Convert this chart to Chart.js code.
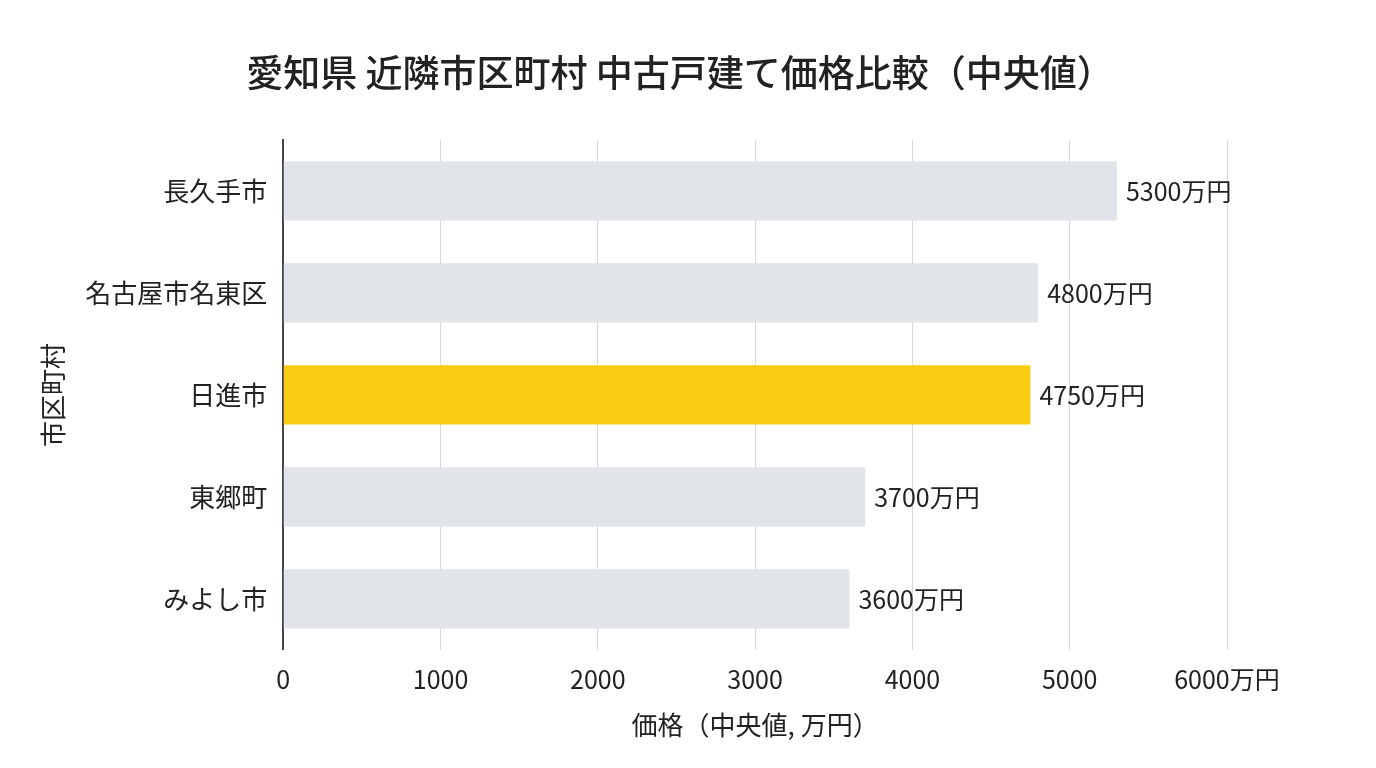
<!DOCTYPE html>
<html lang="ja">
<head>
<meta charset="utf-8">
<title>愛知県 近隣市区町村 中古戸建て価格比較</title>
<script src="https://cdn.jsdelivr.net/npm/chart.js@4.4.1/dist/chart.umd.min.js"></script>
<style>
  html, body { margin: 0; padding: 0; background: #fff; }
  #wrap { width: 1376px; height: 768px; }
</style>
</head>
<body>
<div id="wrap"><canvas id="myChart" width="1376" height="768"></canvas></div>
<script>
const categories = ['長久手市', '名古屋市名東区', '日進市', '東郷町', 'みよし市'];
const prices = [5300, 4800, 4750, 3700, 3600];
const highlight = '日進市';
const tickUnit = '万円';
const chartTitle = '愛知県 近隣市区町村 中古戸建て価格比較（中央値）';

const FONT = "'Noto Sans CJK JP', 'Noto Sans', sans-serif";
const TEXT = '#222222';

const barColors = categories.map(c => c === highlight ? '#f9cd14' : '#e1e4e9');

// タイトルはキャンバス中央に描く
const centerTitle = {
    id: 'centerTitle',
    afterDraw(chart) {
        const { ctx } = chart;
        ctx.save();
        ctx.font = '500 37px ' + FONT;
        ctx.fillStyle = TEXT;
        ctx.textAlign = 'center';
        ctx.textBaseline = 'middle';
        ctx.fillText(chartTitle, chart.width / 2 - 8, 73);
        ctx.restore();
    }
};

// 棒の右端に値ラベル
const valueLabels = {
    id: 'valueLabels',
    afterDatasetsDraw(chart) {
        const { ctx } = chart;
        const meta = chart.getDatasetMeta(0);
        ctx.save();
        ctx.font = '25px ' + FONT;
        ctx.fillStyle = TEXT;
        ctx.textAlign = 'left';
        ctx.textBaseline = 'middle';
        meta.data.forEach((bar, i) => {
            ctx.fillText(prices[i] + tickUnit, bar.x + 9, bar.y + 1);
        });
        ctx.restore();
    }
};

new Chart(document.getElementById('myChart'), {
    type: 'bar',
    data: {
        labels: categories,
        datasets: [{
            data: prices,
            backgroundColor: barColors,
            borderWidth: 0,
            barPercentage: 0.58,
            categoryPercentage: 1.0
        }]
    },
    options: {
        indexAxis: 'y',
        responsive: false,
        animation: false,
        layout: { padding: { left: 38, right: 149, top: 140, bottom: 22 } },
        plugins: {
            legend: { display: false },
            tooltip: { enabled: false },
            title: { display: false }
        },
        scales: {
            x: {
                min: 0,
                max: 6000,
                ticks: {
                    stepSize: 1000,
                    color: TEXT,
                    font: { family: FONT, size: 25 },
                    padding: 15,
                    maxRotation: 0,
                    callback: v => v === 6000 ? v + tickUnit : String(v)
                },
                grid: { color: '#d9d9d9', lineWidth: 1, drawTicks: false },
                border: { display: false },
                title: {
                    display: true,
                    text: '価格（中央値, 万円）',
                    color: TEXT,
                    font: { family: FONT, size: 26 },
                    padding: { top: 0, bottom: 5 }
                }
            },
            y: {
                ticks: {
                    color: TEXT,
                    font: { family: FONT, size: 26 },
                    padding: 16
                },
                grid: { display: false, drawTicks: false },
                border: { display: true, color: '#444444', width: 2 },
                title: {
                    display: true,
                    text: '市区町村',
                    color: TEXT,
                    font: { family: FONT, size: 26 },
                    padding: { top: 0, bottom: 0 }
                }
            }
        }
    },
    plugins: [valueLabels, centerTitle]
});
</script>
</body>
</html>
